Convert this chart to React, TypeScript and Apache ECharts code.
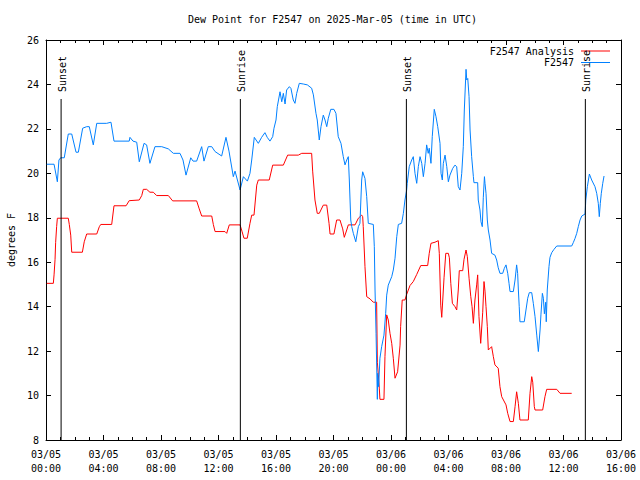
import React, { useEffect, useRef } from 'react';
import * as echarts from 'echarts';

const FONT = '"DejaVu Sans Mono", monospace';
const TITLE = 'Dew Point for F2547 on 2025-Mar-05 (time in UTC)';

// x values are hours since 03/05 00:00 UTC
const xTickLabels = [
  '03/05\n00:00', '03/05\n04:00', '03/05\n08:00', '03/05\n12:00', '03/05\n16:00', '03/05\n20:00',
  '03/06\n00:00', '03/06\n04:00', '03/06\n08:00', '03/06\n12:00', '03/06\n16:00',
];

const seriesNames = ['F2547 Analysis', 'F2547'];

const analysisTimes = [
  0.05, 0.51, 0.56, 0.63, 0.67, 0.74, 0.79, 1.55, 1.62, 1.72,
  1.79, 2.53, 2.66, 2.83, 3.53, 3.71, 3.81, 4.57, 4.73, 5.57,
  5.79, 6.49, 6.66, 6.77, 7.0, 7.23, 7.46, 7.7, 8.51, 8.81,
  10.48, 10.66, 10.83, 11.53, 11.64, 11.76, 12.45, 12.57, 12.75, 13.5,
  13.63, 13.77, 14.0, 14.19, 14.31, 14.47, 14.66, 14.77, 15.53, 15.77,
  16.51, 16.81, 17.55, 17.79, 18.48, 18.55, 18.71, 18.87, 19.01, 19.29,
  19.53, 19.69, 19.76, 20.03, 20.22, 20.45, 20.64, 20.75, 20.92, 21.03,
  21.5, 21.73, 21.96, 22.03, 22.07, 22.19, 22.31, 22.54, 22.77, 23.0,
  23.05, 23.12, 23.19, 23.23, 23.51, 23.58, 23.7, 23.81, 23.93, 24.05,
  24.16, 24.28, 24.46, 24.63, 24.67, 24.78, 24.97, 25.09, 25.32, 25.55,
  25.79, 26.07, 26.55, 26.66, 26.78, 27.06, 27.29, 27.36, 27.46, 27.53,
  27.6, 27.69, 27.81, 27.99, 28.06, 28.16, 28.27, 28.45, 28.57, 28.68,
  28.75, 28.99, 29.08, 29.22, 29.31, 29.43, 29.55, 29.64, 29.73, 29.84,
  29.96, 30.03, 30.12, 30.24, 30.38, 30.47, 30.54, 30.61, 30.7, 30.77,
  31.0, 31.12, 31.23, 31.46, 31.58, 31.7, 32.0, 32.12, 32.28, 32.51,
  32.63, 32.74, 32.86, 32.97, 33.55, 33.67, 33.79, 33.86, 33.97, 34.02,
  34.55, 34.71, 34.83, 35.53, 35.76, 36.57,
];
const analysisValues = [
  15.05, 15.05, 15.43, 16.13, 16.88, 17.6, 17.98, 17.98, 17.7, 17.22,
  16.45, 16.45, 16.92, 17.27, 17.27, 17.6, 17.7, 17.7, 18.54, 18.54,
  18.77, 18.8, 19.0, 19.28, 19.28, 19.15, 19.15, 19.0, 19.0, 18.76,
  18.76, 18.4, 18.08, 18.08, 17.7, 17.38, 17.38, 17.3, 17.68, 17.68,
  17.4, 17.08, 17.08, 17.75, 18.12, 18.12, 19.47, 19.7, 19.7, 20.37,
  20.37, 20.82, 20.82, 20.9, 20.9, 20.1, 18.8, 18.2, 18.2, 18.57,
  18.57, 17.75, 17.27, 17.27, 17.9, 17.9, 17.5, 17.12, 17.45, 17.68,
  17.68, 17.98, 18.12, 18.05, 17.6, 15.8, 14.45, 14.35, 14.2, 14.2,
  11.5, 10.93, 10.3, 9.83, 9.83, 11.75, 13.63, 13.4, 12.8, 12.35,
  11.68, 10.78, 11.07, 12.27, 13.1, 14.3, 14.3, 14.55, 14.95, 15.13,
  15.45, 15.85, 15.85, 16.4, 16.85, 16.9, 16.97, 16.4, 14.07, 13.52,
  14.3, 15.3, 16.4, 16.4, 16.2, 15.05, 14.15, 14.0, 13.85, 14.75,
  15.62, 15.62, 16.13, 16.55, 16.25, 15.28, 14.45, 14.0, 13.25, 14.3,
  14.98, 15.43, 13.55, 12.35, 13.75, 15.13, 14.7, 14.0, 13.1, 12.05,
  12.2, 11.75, 11.38, 11.23, 10.4, 9.95, 9.58, 9.2, 8.83, 8.83,
  9.5, 10.17, 9.65, 8.9, 8.9, 10.1, 10.85, 10.6, 9.5, 9.35,
  9.35, 9.95, 10.28, 10.28, 10.1, 10.1,
];

const stationTimes = [
  0.05, 0.56, 0.79, 0.9, 1.02, 1.27, 1.55, 1.79, 2.09, 2.25,
  2.55, 2.83, 3.01, 3.29, 3.53, 4.22, 4.52, 4.73, 5.79, 5.84,
  6.05, 6.31, 6.49, 6.82, 7.0, 7.23, 7.58, 8.05, 8.51, 8.86,
  9.32, 9.53, 9.74, 10.07, 10.23, 10.48, 10.83, 10.99, 11.29, 11.53,
  11.76, 12.22, 12.52, 12.73, 13.03, 13.15, 13.5, 13.73, 14.01, 14.19,
  14.31, 14.49, 14.77, 15.0, 15.23, 15.39, 15.58, 15.77, 15.86, 16.0,
  16.09, 16.28, 16.4, 16.51, 16.63, 16.74, 16.93, 17.04, 17.2, 17.32,
  17.44, 17.62, 17.9, 18.18, 18.48, 18.6, 18.78, 18.87, 19.01, 19.13,
  19.29, 19.41, 19.53, 19.64, 19.81, 20.03, 20.17, 20.33, 20.52, 20.68,
  20.8, 20.92, 21.03, 21.1, 21.2, 21.27, 21.38, 21.55, 21.73, 21.84,
  21.96, 22.03, 22.19, 22.31, 22.42, 22.77, 22.84, 22.89, 22.96, 23.05,
  23.07, 23.14, 23.23, 23.35, 23.51, 23.63, 23.7, 23.81, 24.05, 24.16,
  24.28, 24.4, 24.51, 24.74, 24.86, 24.97, 25.09, 25.13, 25.27, 25.44,
  25.55, 25.67, 25.79, 25.9, 26.02, 26.14, 26.25, 26.37, 26.48, 26.59,
  26.66, 26.78, 26.87, 27.01, 27.13, 27.25, 27.41, 27.48, 27.57, 27.64,
  27.76, 27.88, 27.99, 28.1, 28.29, 28.45, 28.57, 28.68, 28.8, 28.92,
  29.03, 29.1, 29.22, 29.27, 29.34, 29.43, 29.5, 29.61, 29.73, 29.77,
  30.03, 30.07, 30.19, 30.26, 30.35, 30.42, 30.5, 30.54, 30.61, 30.7,
  30.77, 30.89, 31.0, 31.23, 31.35, 31.46, 31.58, 31.77, 31.88, 32.0,
  32.12, 32.21, 32.28, 32.51, 32.63, 32.74, 32.81, 32.86, 32.92, 32.97,
  33.27, 33.39, 33.51, 33.62, 33.79, 33.9, 34.02, 34.14, 34.25, 34.37,
  34.43, 34.53, 34.6, 34.67, 34.76, 34.8, 34.87, 34.99, 35.06, 35.18,
  35.34, 35.53, 36.57, 36.68, 36.8, 36.92, 37.03, 37.15, 37.27, 37.5,
  37.55, 37.66, 37.8, 37.96, 38.19, 38.31, 38.42, 38.49, 38.56, 38.63,
  38.73, 38.82,
];
const stationValues = [
  20.41, 20.41, 19.62, 20.6, 20.7, 20.7, 21.77, 21.77, 20.95, 20.95,
  22.03, 22.1, 22.1, 21.28, 22.25, 22.25, 22.3, 21.45, 21.45, 21.62,
  21.45, 21.4, 20.52, 21.35, 21.28, 20.45, 21.2, 21.2, 21.1, 20.9,
  20.9, 20.6, 19.92, 20.7, 20.55, 20.55, 21.2, 20.55, 21.2, 21.2,
  20.98, 20.78, 21.62, 21.0, 19.85, 20.1, 19.25, 19.85, 19.65, 20.0,
  20.6, 21.62, 21.35, 21.62, 21.83, 21.62, 21.45, 21.65, 22.03, 22.4,
  23.0, 23.67, 23.22, 23.6, 23.12, 23.75, 23.9, 23.82, 23.3, 23.15,
  23.6, 24.05, 24.02, 23.98, 23.83, 23.53, 22.7, 22.4, 21.5, 22.1,
  22.62, 22.4, 22.1, 22.48, 22.88, 22.88, 22.7, 21.65, 21.35, 20.75,
  20.38, 20.6, 20.75, 19.7, 17.9, 17.6, 17.3, 16.92, 17.6, 17.75,
  19.7, 20.07, 19.77, 18.95, 17.75, 17.7, 16.7, 14.75, 12.8, 9.83,
  11.0, 10.4, 11.68, 12.2, 12.72, 13.7, 14.52, 14.97, 15.35, 15.65,
  16.18, 17.15, 17.7, 17.75, 18.2, 18.8, 19.25, 19.55, 20.3, 20.6,
  20.75, 20.0, 19.55, 20.3, 20.75, 20.45, 19.85, 20.45, 21.28, 20.9,
  21.13, 20.45, 21.65, 22.88, 22.55, 22.1, 21.35, 20.0, 19.7, 20.45,
  20.82, 20.3, 19.62, 19.92, 20.22, 20.37, 20.3, 19.4, 19.25, 20.0,
  21.2, 22.85, 24.68, 24.2, 24.27, 23.45, 21.95, 20.75, 19.85, 19.58,
  19.58, 18.8, 18.35, 17.82, 17.6, 18.9, 19.85, 19.55, 19.1, 17.9,
  17.45, 17.0, 16.4, 16.32, 16.1, 15.75, 15.5, 15.5, 15.72, 15.88,
  15.5, 15.05, 14.68, 14.68, 15.2, 15.88, 15.5, 14.75, 14.0, 13.32,
  13.32, 13.85, 14.38, 14.63, 14.63, 14.15, 13.55, 12.72, 11.98, 12.95,
  13.63, 14.6, 14.38, 13.68, 14.2, 13.32, 14.75, 15.8, 16.22, 16.43,
  16.58, 16.73, 16.73, 16.88, 17.07, 17.3, 17.6, 17.9, 18.08, 18.17,
  18.8, 19.4, 19.97, 19.7, 19.4, 19.1, 18.65, 18.05, 18.65, 19.1,
  19.55, 19.88,
];

const sunLabels = ['Sunset', 'Sunrise', 'Sunset', 'Sunrise'];
const sunTimes = [1.05, 13.52, 25.07, 37.52];

const X_MIN = 0;
const X_MAX = 40;
const Y_MIN = 8;
const Y_MAX = 26;
const SUN_LINE_FRACTION = 0.8525;

const txt = { fontFamily: FONT, fontSize: 10, color: '#000', fontWeight: 'normal' as const };
const black = { color: '#000', width: 1 };

function buildOption() {
  const baseX = {
    type: 'value',
    min: X_MIN,
    max: X_MAX,
    interval: 4,
    axisLine: { show: true, onZero: false, lineStyle: black },
    axisTick: { show: true, inside: true, length: 5, lineStyle: black },
    minorTick: { show: true, splitNumber: 4, length: 3, lineStyle: black },
    splitLine: { show: false },
    minorSplitLine: { show: false },
  };
  const baseY = {
    type: 'value',
    min: Y_MIN,
    max: Y_MAX,
    interval: 2,
    axisLine: { show: true, onZero: false, lineStyle: black },
    axisTick: { show: true, inside: true, length: 5, lineStyle: black },
    splitLine: { show: false },
  };
  return {
    animation: false,
    backgroundColor: '#fff',
    title: {
      text: TITLE,
      left: 188,
      top: 14,
      padding: 0,
      textStyle: { ...txt },
    },
    legend: {
      data: seriesNames,
      orient: 'vertical',
      align: 'right',
      right: 30,
      top: 46,
      padding: 0,
      itemGap: 1.5,
      itemWidth: 29,
      itemHeight: 1,
      icon: 'rect',
      textStyle: { ...txt, padding: [0, 2, 0, 0] },
      selectedMode: false,
    },
    grid: { left: 46, right: 19, top: 40, bottom: 40, containLabel: false, outerBoundsMode: 'none' },
    xAxis: [
      {
        ...baseX,
        position: 'bottom',
        axisLabel: {
          show: true,
          margin: 7,
          lineHeight: 14,
          ...txt,
          formatter: (v: number) => xTickLabels[Math.round((v - X_MIN) / 4)] ?? '',
        },
      },
      { ...baseX, position: 'top', axisLabel: { show: false } },
    ],
    yAxis: [
      {
        ...baseY,
        position: 'left',
        name: 'degrees F',
        nameLocation: 'middle',
        nameRotate: 90,
        nameGap: 30,
        nameTextStyle: { ...txt },
        axisLabel: { show: true, margin: 7, ...txt },
      },
      { ...baseY, position: 'right', axisLabel: { show: false } },
    ],
    series: [
      {
        name: seriesNames[0],
        type: 'line',
        data: analysisTimes.map((t, i) => [t, analysisValues[i]]),
        symbol: 'none',
        showSymbol: false,
        color: '#ff0000',
        lineStyle: { width: 1, color: '#ff0000' },
        z: 2,
      },
      {
        name: seriesNames[1],
        type: 'line',
        data: stationTimes.map((t, i) => [t, stationValues[i]]),
        symbol: 'none',
        showSymbol: false,
        color: '#0080ff',
        lineStyle: { width: 1, color: '#0080ff' },
        z: 3,
      },
      {
        name: 'sun',
        type: 'custom',
        silent: true,
        z: 4,
        encode: { x: 0, y: 1 },
        data: sunTimes.map((t) => [t, Y_MIN]),
        renderItem: (params: any, api: any) => {
          const x = api.coord([api.value(0), api.value(1)])[0];
          const cs = params.coordSys;
          const bottom = cs.y + cs.height;
          const top = cs.y + cs.height * (1 - SUN_LINE_FRACTION);
          return {
            type: 'group',
            children: [
              {
                type: 'line',
                shape: { x1: x, y1: bottom, x2: x, y2: top },
                style: { stroke: '#000', lineWidth: 1 },
              },
              {
                type: 'text',
                x: x + 1,
                y: top - 7,
                rotation: Math.PI / 2,
                style: {
                  text: sunLabels[params.dataIndex],
                  align: 'left',
                  verticalAlign: 'middle',
                  font: `10px ${FONT}`,
                  fill: '#000',
                },
              },
            ],
          };
        },
      },
    ],
  };
}

export default function App() {
  const ref = useRef<HTMLDivElement>(null);
  useEffect(() => {
    if (!ref.current) return;
    const chart = echarts.init(ref.current, null, { renderer: 'svg' });
    chart.setOption(buildOption() as any);
    return () => chart.dispose();
  }, []);
  return (
    <div
      ref={ref}
      style={{ position: 'absolute', left: 0, top: 0, width: 640, height: 480, background: '#fff' }}
    />
  );
}
